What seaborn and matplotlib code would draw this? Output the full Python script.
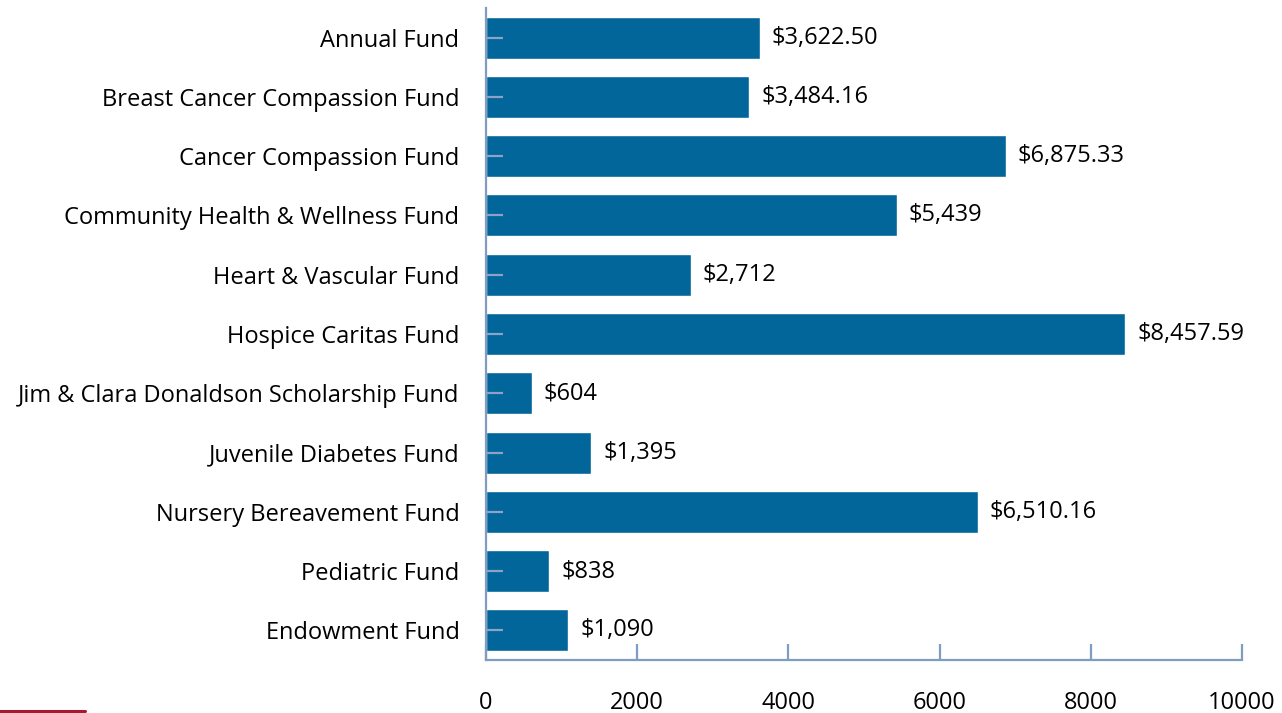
import matplotlib.pyplot as plt
import matplotlib.lines as mlines
import pandas as pd
import seaborn as sns

funds = [
    "Annual Fund",
    "Breast Cancer Compassion Fund",
    "Cancer Compassion Fund",
    "Community Health & Wellness Fund",
    "Heart & Vascular Fund",
    "Hospice Caritas Fund",
    "Jim & Clara Donaldson Scholarship Fund",
    "Juvenile Diabetes Fund",
    "Nursery Bereavement Fund",
    "Pediatric Fund",
    "Endowment Fund",
]
amounts = [3622.50, 3484.16, 6875.33, 5439, 2712, 8457.59, 604, 1395, 6510.16, 838, 1090]
amount_labels = ["$3,622.50", "$3,484.16", "$6,875.33", "$5,439", "$2,712", "$8,457.59",
                 "$604", "$1,395", "$6,510.16", "$838", "$1,090"]
x_ticks = [0, 2000, 4000, 6000, 8000, 10000]

sns.set_theme(style="white")
plt.rcParams['font.family'] = ['Open Sans', 'DejaVu Sans']

df = pd.DataFrame({"fund": funds, "amount": amounts})

fig = plt.figure(figsize=(12.82, 7.13), dpi=100)
ax = fig.add_axes([0.379, 0.0743, 0.5898, 0.9145])

sns.barplot(data=df, x="amount", y="fund", orient="h", color="#02669a",
            saturation=1, width=0.71, ax=ax, zorder=1)

ax.bar_label(ax.containers[0], labels=amount_labels, padding=8.5, fontsize=17, color="black")

ax.set_xlim(0, 10000)
ax.set_ylim(10.5, -0.5)
ax.set_xticks(x_ticks)
ax.set_xlabel("")
ax.set_ylabel("")
ax.set_axisbelow(False)

spine_color = "#7f9cc2"
for side in ["top", "right"]:
    ax.spines[side].set_visible(False)
for side in ["left", "bottom"]:
    ax.spines[side].set_color(spine_color)
    ax.spines[side].set_linewidth(1.6)

ax.tick_params(axis="x", direction="in", length=11.5, width=1.6, color=spine_color,
               pad=22, labelsize=17, labelcolor="black", bottom=True)
ax.tick_params(axis="y", direction="in", length=12, width=1.6, color="#8aa3c6",
               pad=19, labelsize=17, labelcolor="black", left=True)

# red accent line in the lower-left corner
fig.add_artist(mlines.Line2D([0, 85 / 1282], [2 / 713, 2 / 713], color="#a6192e",
                             linewidth=2.2, transform=fig.transFigure))

fig.savefig("out.png", dpi=100)
